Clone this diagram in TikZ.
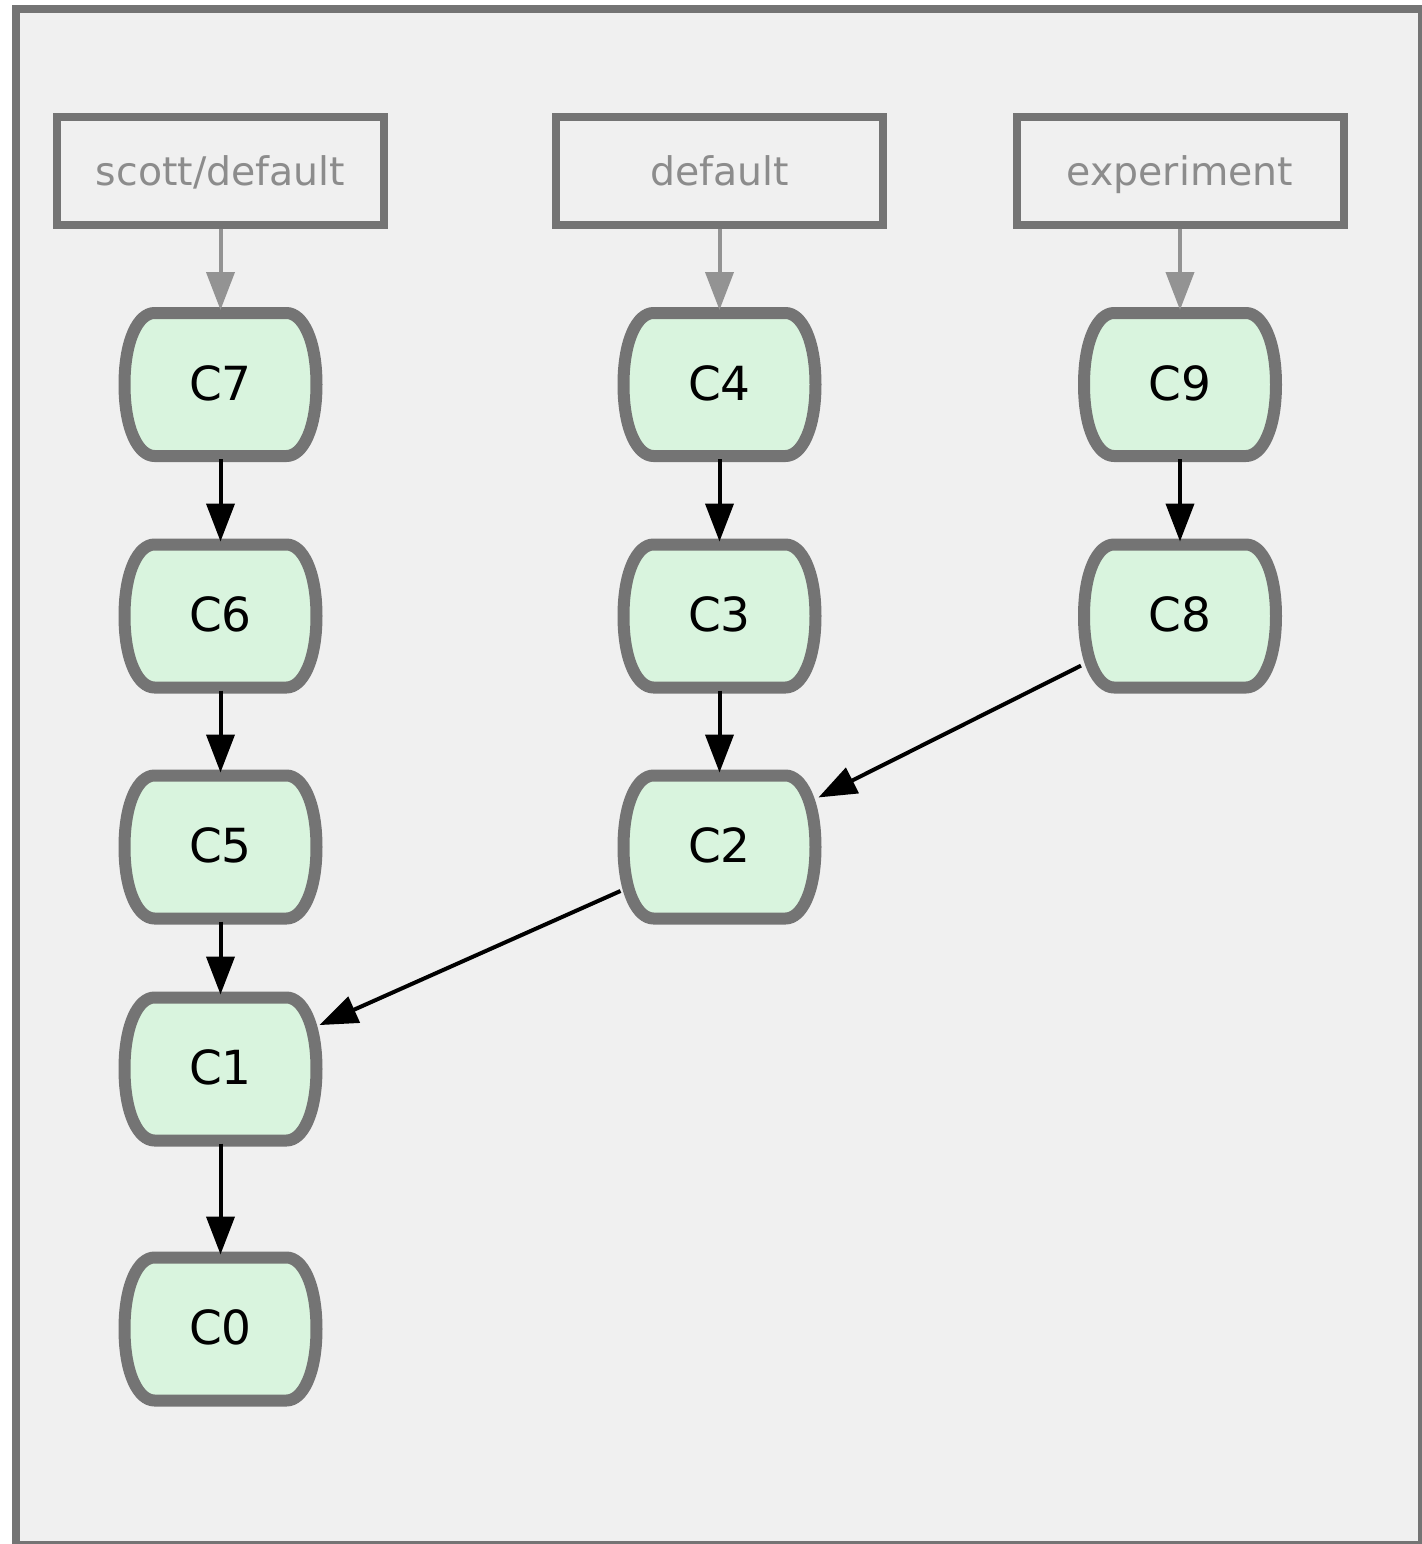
\documentclass[tikz,border=0pt]{standalone}
\usepackage{fontspec}
\setmainfont{DejaVu Sans}
\usetikzlibrary{arrows.meta}
\definecolor{bgfill}{HTML}{F0F0F0}
\definecolor{edgegray}{HTML}{747474}
\definecolor{commitfill}{HTML}{D9F4DE}
\definecolor{reftext}{HTML}{8C8C8C}
\definecolor{refarrow}{HTML}{939393}
\pgfdeclarelayer{bottom}
\pgfdeclarelayer{shapes}
\pgfsetlayers{bottom,shapes,main}
\begin{document}
\begin{tikzpicture}[x=0.5pt,y=-0.5pt,
  commit/.style={rectangle, minimum width=96pt, minimum height=71.5pt,
    inner sep=0pt, outer sep=1.5pt, text height=15.5pt, text depth=0pt,
    font=\fontsize{23.5}{28}\selectfont},
  commitshape/.style={draw=edgegray, fill=commitfill, line width=6pt, line join=round},
  refbox/.style={rectangle, draw=edgegray, line width=4pt, minimum width=163.5pt,
    minimum height=54pt, inner sep=0pt, text=reftext, text height=14pt, text depth=0pt,
    font=\fontsize{19.7}{24}\selectfont},
  parent/.style={-{Triangle[length=19pt,width=14pt]}, line width=2pt, black},
  refptr/.style={-{Triangle[length=19pt,width=14pt]}, line width=2pt, refarrow}]
\useasboundingbox (0,0) rectangle (1422,1544);
\clip (0,0) rectangle (1422,1544);
\begin{pgfonlayer}{bottom}
\draw[draw=edgegray, fill=bgfill, line width=4pt] (16,9) rectangle (1422,1545);
\end{pgfonlayer}

\node[refbox] (rsd) at (220.5,171) {scott/default};
\node[refbox] (rd)  at (719.5,171) {default};
\node[refbox] (rex) at (1180,171) {experiment};

\node[commit] (c7) at (220.5,384.5) {C7};
\node[commit] (c6) at (220.5,616) {C6};
\node[commit] (c5) at (220.5,847) {C5};
\node[commit] (c1) at (220.5,1069) {C1};
\node[commit] (c0) at (220.5,1329) {C0};
\node[commit] (c4) at (719.5,384.5) {C4};
\node[commit] (c3) at (719.5,616) {C3};
\node[commit] (c2) at (719.5,847) {C2};
\node[commit] (c9) at (1180,384.5) {C9};
\node[commit] (c8) at (1180,616) {C8};

\begin{pgfonlayer}{shapes}
\foreach \n in {c7,c6,c5,c1,c0,c4,c3,c2,c9,c8}{
  \draw[commitshape] ([shift={(-66,-71.5)}]\n.center) -- ([shift={(66,-71.5)}]\n.center)
    .. controls ([shift={(82,-71.5)}]\n.center) and ([shift={(96,-45)}]\n.center) .. ([shift={(96,0)}]\n.center)
    .. controls ([shift={(96,45)}]\n.center) and ([shift={(82,71.5)}]\n.center) .. ([shift={(66,71.5)}]\n.center)
    -- ([shift={(-66,71.5)}]\n.center)
    .. controls ([shift={(-82,71.5)}]\n.center) and ([shift={(-96,45)}]\n.center) .. ([shift={(-96,0)}]\n.center)
    .. controls ([shift={(-96,-45)}]\n.center) and ([shift={(-82,-71.5)}]\n.center) .. ([shift={(-66,-71.5)}]\n.center)
    -- cycle;
}
\end{pgfonlayer}

\draw[refptr] (rsd) -- (c7);
\draw[refptr] (rd) -- (c4);
\draw[refptr] (rex) -- (c9);

\draw[parent] (c7) -- (c6);
\draw[parent] (c6) -- (c5);
\draw[parent] (c5) -- (c1);
\draw[parent] (c1) -- (c0);
\draw[parent] (c4) -- (c3);
\draw[parent] (c3) -- (c2);
\draw[parent] (c2) -- (c1);
\draw[parent] (c9) -- (c8);
\draw[parent] (c8) -- (c2);
\end{tikzpicture}
\end{document}
